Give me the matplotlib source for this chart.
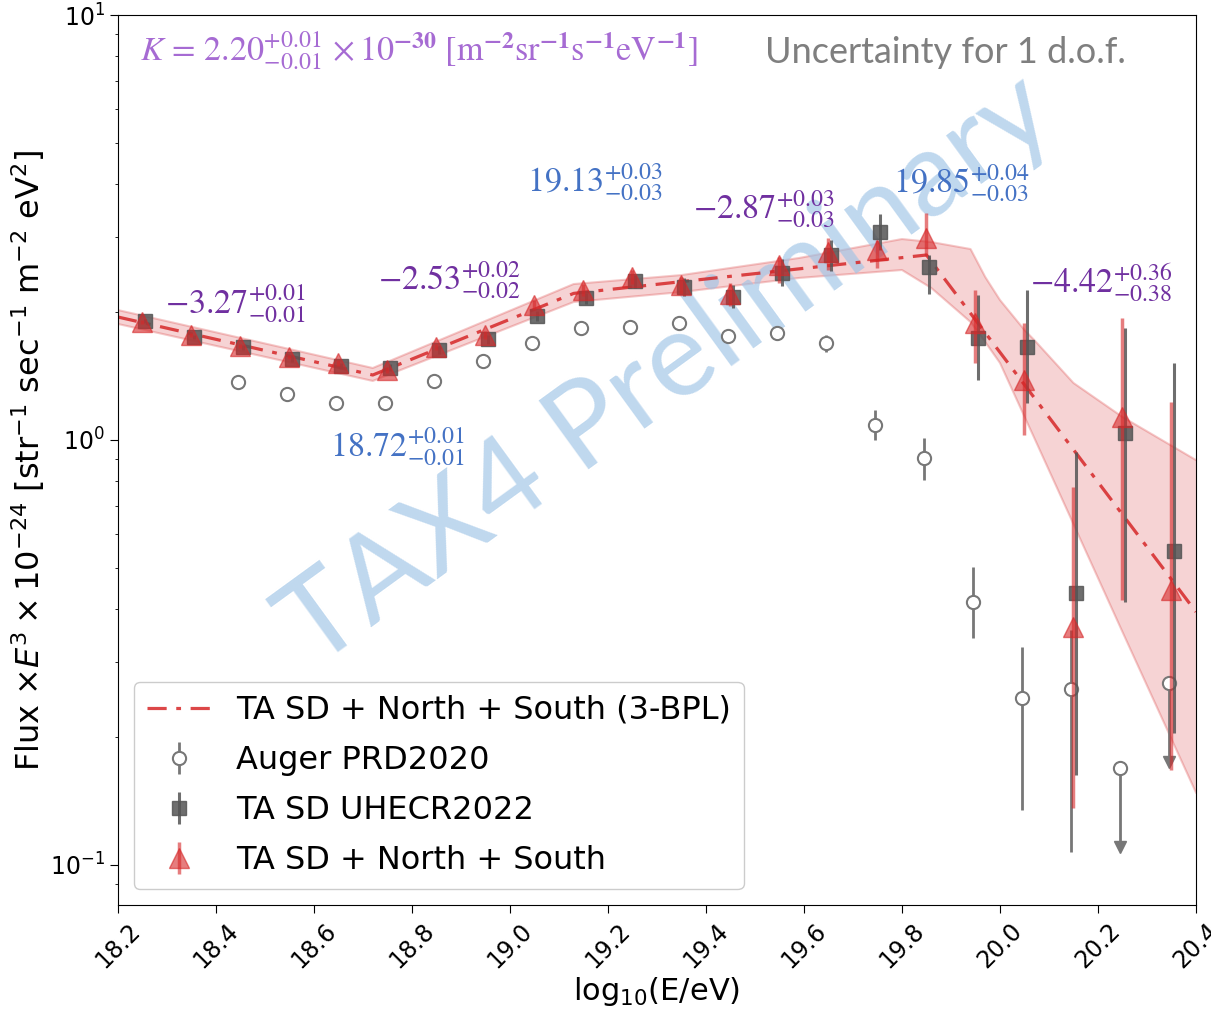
import matplotlib
matplotlib.use("Agg")
import matplotlib.pyplot as plt
import numpy as np

# energy bins, log10(E/eV)
ta_x = [18.25, 18.35, 18.45, 18.55, 18.65, 18.75, 18.85, 18.95, 19.05, 19.15, 19.25,
        19.35, 19.45, 19.55, 19.65, 19.75, 19.85, 19.95, 20.05, 20.15, 20.25, 20.35]

# TA SD + North + South  (flux x E^3 x 1e-24)
tns_y = [1.895, 1.767, 1.664, 1.568, 1.518, 1.461, 1.655, 1.767, 2.078, 2.254, 2.418,
         2.316, 2.205, 2.580, 2.770, 2.800, 2.988, 1.885, 1.384, 0.363, 1.133, 0.444]
tns_lo = [1.875, 1.748, 1.645, 1.548, 1.495, 1.436, 1.625, 1.730, 2.025, 2.185, 2.330,
          2.210, 2.070, 2.341, 2.512, 2.536, 2.710, 1.518, 1.027, 0.136, 0.420, 0.167]
tns_hi = [1.915, 1.786, 1.683, 1.588, 1.541, 1.486, 1.685, 1.804, 2.131, 2.323, 2.506,
          2.422, 2.340, 2.696, 2.988, 2.955, 3.420, 2.254, 1.885, 0.775, 1.936, 1.229]

# TA SD UHECR2022
sd_y = [1.909, 1.751, 1.652, 1.549, 1.496, 1.480, 1.628, 1.725, 1.958, 2.155, 2.366,
        2.287, 2.174, 2.476, 2.725, 3.091, 2.554, 1.735, 1.652, 0.437, 1.040, 0.549]
sd_lo = [1.890, 1.730, 1.630, 1.525, 1.470, 1.450, 1.595, 1.685, 1.905, 2.090, 2.280,
         2.180, 2.040, 2.300, 2.500, 2.800, 2.205, 1.384, 1.220, 0.163, 0.416, 0.204]
sd_hi = [1.930, 1.770, 1.675, 1.573, 1.520, 1.510, 1.660, 1.765, 2.010, 2.220, 2.450,
         2.400, 2.310, 2.660, 2.960, 3.400, 2.725, 2.194, 2.254, 0.937, 1.837, 1.518]

# Auger PRD2020
aug_x = [18.45, 18.55, 18.65, 18.75, 18.85, 18.95, 19.05, 19.15, 19.25, 19.35, 19.45,
         19.55, 19.65, 19.75, 19.85, 19.95, 20.05, 20.15]
aug_y = [1.372, 1.281, 1.220, 1.220, 1.379, 1.537, 1.694, 1.831, 1.841, 1.888, 1.760,
         1.782, 1.689, 1.085, 0.907, 0.416, 0.247, 0.259]
aug_lo = [1.365, 1.273, 1.212, 1.211, 1.369, 1.525, 1.680, 1.815, 1.820, 1.860, 1.730,
          1.745, 1.614, 1.000, 0.805, 0.3425, 0.1348, 0.1075]
aug_hi = [1.379, 1.289, 1.228, 1.229, 1.389, 1.549, 1.708, 1.847, 1.862, 1.916, 1.790,
          1.820, 1.766, 1.177, 1.011, 0.503, 0.3264, 0.357]
# Auger upper limits
aug_ul_x = [20.25, 20.35]
aug_ul_y = [0.169, 0.268]
aug_ul_tip = [0.110, 0.175]

# 3-BPL fit (vertices at the break points) and its 1 d.o.f. band
fit_x = [18.2, 18.72, 19.13, 19.85, 20.4]
fit_y = [1.947, 1.422, 2.213, 2.725, 0.394]
band_x = [18.2, 18.72, 19.13, 19.35, 19.59, 19.80, 19.86, 19.94, 19.97, 20.0,
          20.05, 20.07, 20.15, 20.2, 20.25, 20.4]
band_hi = [2.022, 1.477, 2.328, 2.444, 2.681, 2.971, 2.923, 2.814, 2.418, 2.135,
           1.815, 1.719, 1.362, 1.242, 1.133, 0.897]
band_lo = [1.875, 1.377, 2.112, 2.229, 2.406, 2.512, 2.278, 1.895, 1.700, 1.518,
           1.135, 1.011, 0.634, 0.4735, 0.3534, 0.148]

slopes = [r"$-3.27^{+0.01}_{-0.01}$", r"$-2.53^{+0.02}_{-0.02}$",
          r"$-2.87^{+0.03}_{-0.03}$", r"$-4.42^{+0.36}_{-0.38}$"]
slope_pos = [(18.296, 2.09), (18.731, 2.37), (19.373, 3.48), (20.061, 2.34)]
breaks = [r"$18.72^{+0.01}_{-0.01}$", r"$19.13^{+0.03}_{-0.03}$", r"$19.85^{+0.04}_{-0.03}$"]
break_pos = [(18.633, 0.963), (19.035, 4.03), (19.782, 4.03)]

red = "#d62728"

fig = plt.figure(figsize=(12.11, 10.10), dpi=100)
ax = fig.add_axes([0.0974, 0.104, 0.8902, 0.8811])
ax.set_yscale("log")
ax.set_xlim(18.2, 20.4)
ax.set_ylim(0.0805, 10)

def asym(y, lo, hi):
    y, lo, hi = np.array(y), np.array(lo), np.array(hi)
    return [y - lo, hi - y]

ax.fill_between(band_x, band_lo, band_hi, facecolor=red, alpha=0.2, zorder=1)
ax.plot(band_x, band_hi, color=red, alpha=0.25, lw=1.5, zorder=1)
ax.plot(band_x, band_lo, color=red, alpha=0.25, lw=1.5, zorder=1)
fit_line, = ax.plot(fit_x, fit_y, color=red, ls=(0, (6, 3, 1.5, 3)), lw=2.3,
                    alpha=0.85, zorder=2)

aug = ax.errorbar(np.array(aug_x) - 0.005, aug_y, yerr=asym(aug_y, aug_lo, aug_hi),
                  fmt="o", ms=9.5, mfc="white", mec="#777777", mew=1.5,
                  ecolor="#777777", elinewidth=2, zorder=3)
ax.errorbar(np.array(aug_ul_x) - 0.005, aug_ul_y,
            yerr=[np.array(aug_ul_y) - np.array(aug_ul_tip), np.zeros(2)],
            fmt="o", ms=9.5, mfc="white", mec="#777777", mew=1.5,
            ecolor="#777777", elinewidth=2, zorder=3)
ax.plot(np.array(aug_ul_x) - 0.005, aug_ul_tip, "v", ms=8, color="#777777", zorder=3)

sd = ax.errorbar(np.array(ta_x) + 0.005, sd_y, yerr=asym(sd_y, sd_lo, sd_hi),
                 fmt="s", ms=10, color="#555555", alpha=0.85, elinewidth=2.2, zorder=4)
tns = ax.errorbar(ta_x, tns_y, yerr=asym(tns_y, tns_lo, tns_hi),
                  fmt="^", ms=14, color=red, alpha=0.6, elinewidth=2.5, zorder=5)

for txt, (x, y) in zip(slopes, slope_pos):
    ax.text(x, y, txt, color="#7030a0", fontsize=24.5, ha="left", va="center",
            math_fontfamily="stix", zorder=6)
for txt, (x, y) in zip(breaks, break_pos):
    ax.text(x, y, txt, color="#4472c4", fontsize=24.5, ha="left", va="center",
            math_fontfamily="stix", zorder=6)

ax.text(0.02, 0.96,
        r"$K\,=\,2.20^{+0.01}_{-0.01}\,\times10^{\mathbf{-30}}\ [\mathrm{m}^{\mathbf{-2}}"
        r"\mathrm{sr}^{\mathbf{-1}}\mathrm{s}^{\mathbf{-1}}\mathrm{eV}^{\mathbf{-1}}]$",
        transform=ax.transAxes, color="#a66bd3", fontsize=24.5, ha="left", va="center",
        math_fontfamily="stix")
ax.text(0.60, 0.958, "Uncertainty for 1 d.o.f.", transform=ax.transAxes,
        color="#7f7f7f", fontsize=26, family="Lato", ha="left", va="center")

ax.text(0.51, 0.60, "TAX4 Preliminary", transform=ax.transAxes, rotation=36,
        color="#9dc3e6", alpha=0.65, fontsize=86, family="Lato",
        ha="center", va="center", zorder=1.5)

ax.set_xticks([18.2, 18.4, 18.6, 18.8, 19.0, 19.2, 19.4, 19.6, 19.8, 20.0, 20.2, 20.4])
ax.tick_params(axis="x", labelsize=17, labelrotation=45, length=6)
ax.tick_params(axis="y", which="major", labelsize=17, length=6)
ax.set_xlabel("log$_{10}$(E/eV)", fontsize=22, labelpad=2)
ax.set_ylabel(r"Flux $\times E^3\times10^{-24}$ [str$^{-1}$ sec$^{-1}$ m$^{-2}$ eV$^2$]",
              fontsize=23, labelpad=2)

ax.legend([fit_line, aug, sd, tns],
          ["TA SD + North + South (3-BPL)", "Auger PRD2020", "TA SD UHECR2022",
           "TA SD + North + South"],
          loc="lower left", fontsize=23, labelspacing=0.6, handlelength=2.0,
          borderaxespad=0.5, framealpha=1)

fig.savefig("out.png", dpi=100)
